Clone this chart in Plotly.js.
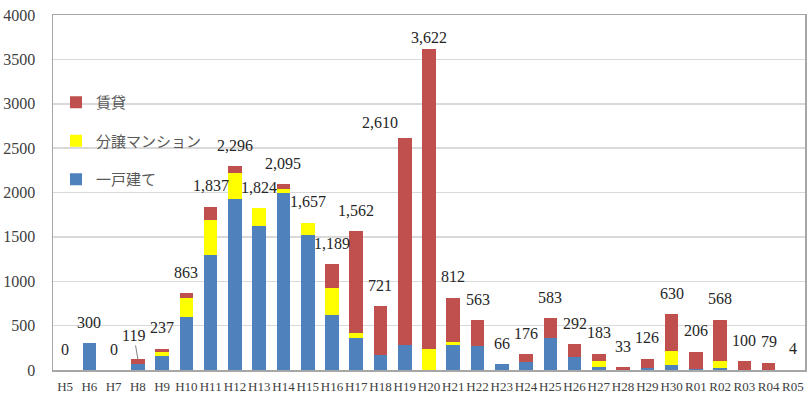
<!DOCTYPE html>
<html>
<head>
<meta charset="utf-8">
<script src="https://cdn.plot.ly/plotly-3.0.1.min.js"></script>
<style>html,body{margin:0;padding:0;background:#fff;}#chart{width:812px;height:395px;}</style>
</head>
<body>
<div id="chart"></div>
<script>
const categories = ["H5","H6","H7","H8","H9","H10","H11","H12","H13","H14","H15","H16","H17","H18","H19","H20","H21","H22","H23","H24","H25","H26","H27","H28","H29","H30","R01","R02","R03","R04","R05"];
const detached = [0,300,0,65,160,600,1300,1925,1625,1990,1520,625,360,170,280,0,280,270,66,90,360,145,30,0,25,55,15,20,0,0,0];
const condo    = [0,0,0,0,45,210,395,290,199,55,137,300,55,0,0,235,40,0,0,0,0,0,75,0,0,160,0,85,0,0,0];
const rental   = [0,0,0,54,32,53,142,81,0,50,0,264,1147,551,2330,3387,492,293,0,86,223,147,78,33,101,415,191,463,100,79,4];
const totals   = [0,300,0,119,237,863,1837,2296,1824,2095,1657,1189,1562,721,2610,3622,812,563,66,176,583,292,183,33,126,630,206,568,100,79,4];
const seriesNames = ["一戸建て","分譲マンション","賃貸"];

const FONT = "Liberation Serif, 'Noto Sans CJK JP', serif";
const colors = ["#4F81BD","#FFFF00","#C0504D"];
const seriesData = [detached, condo, rental];

const traces = seriesData.map((vals, k) => ({
  type: "bar",
  name: seriesNames[k],
  x: categories,
  y: vals,
  width: 0.56,
  legendgroup: "g" + k,
  legendrank: 3 - k,
  marker: {color: colors[k], line: {width: 0}},
  hoverinfo: "x+y+name"
}));

// label placement tweaks (pixel offsets), keyed by category
const labelTweaks = {
  "H19": {xshift: -25, yshift: 16},
  "H20": {xshift: 0, yshift: 11}
};

const annotations = categories.map((c, i) => {
  const txt = totals[i].toLocaleString("en-US");
  if (c === "H8") {
    return {x: c, y: totals[i], xref: "x", yref: "y", text: txt, showarrow: true,
      arrowhead: 0, arrowwidth: 1, arrowcolor: "#7f7f7f", ax: -4, ay: -24, standoff: 0,
      font: {family: FONT, size: 16, color: "#262626"}};
  }
  const t = labelTweaks[c] || {xshift: 0, yshift: 21};
  return {x: c, y: totals[i], xref: "x", yref: "y", text: txt, showarrow: false,
    yanchor: "middle", xanchor: "center", xshift: t.xshift, yshift: t.yshift,
    font: {family: FONT, size: 16, color: "#262626"}};
});

const layout = {
  width: 812, height: 395,
  margin: {l: 53, r: 7, t: 15, b: 25},
  paper_bgcolor: "#ffffff", plot_bgcolor: "#ffffff",
  barmode: "stack",
  bargap: 0.44,
  font: {family: FONT, color: "#404040"},
  showlegend: true,
  legend: {
    x: 0.004, y: 0.80, xanchor: "left", yanchor: "top",
    traceorder: "grouped", tracegroupgap: 16,
    bgcolor: "rgba(0,0,0,0)",
    font: {family: FONT, size: 15, color: "#595959"},
    itemwidth: 30
  },
  xaxis: {
    type: "category",
    tickangle: 0,
    tickfont: {family: FONT, size: 13, color: "#404040"},
    showline: true, linecolor: "#a6a6a6", linewidth: 1.5, mirror: true,
    ticks: "", ticklabelstandoff: 4,
    showgrid: false, fixedrange: true
  },
  yaxis: {
    range: [0, 4000], dtick: 500,
    tickfont: {family: FONT, size: 16, color: "#404040"},
    showline: true, linecolor: "#a6a6a6", linewidth: 1.5, mirror: true,
    showgrid: true, gridcolor: "#d9d9d9", gridwidth: 1.5,
    zeroline: false, ticks: "", ticklabelstandoff: 13, fixedrange: true
  },
  annotations: annotations
};

Plotly.newPlot("chart", traces, layout, {displayModeBar: false, staticPlot: true});
</script>
</body>
</html>
